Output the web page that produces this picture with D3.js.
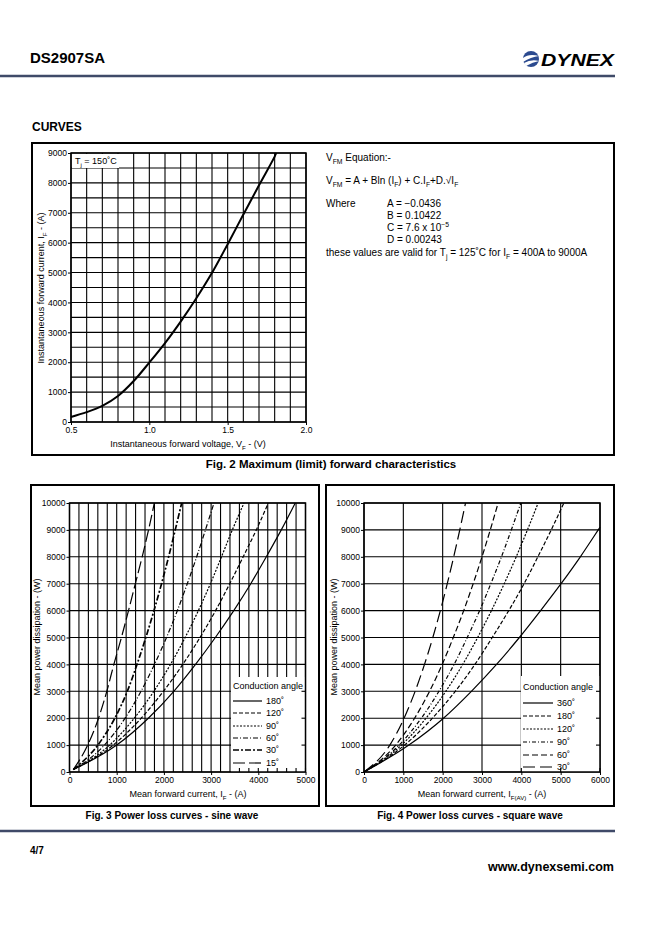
<!DOCTYPE html>
<html><head><meta charset="utf-8">
<script src="https://cdn.jsdelivr.net/npm/d3@7"></script>
<style>
body{margin:0;background:#fff}
svg{display:block}
text{font-family:"Liberation Sans",Arial,Helvetica,sans-serif;fill:#000}
</style>
</head><body>
<svg id="c" width="662" height="936"></svg>
<script>
// ---------------- DATA ----------------
// Fig 2: maximum forward characteristic (Tj = 150 C)
const fig2Voltage = [0.5, 0.6, 0.7, 0.8, 0.9, 1.0, 1.1, 1.2, 1.3, 1.4, 1.5, 1.6, 1.7, 1.8, 1.81];
const fig2Current = [170, 330, 540, 870, 1370, 1990, 2640, 3360, 4140, 4990, 5950, 6940, 7920, 8880, 9000];
const fig2XTicks = [0.5, 1.0, 1.5, 2.0];
const fig2YTicks = [0, 1000, 2000, 3000, 4000, 5000, 6000, 7000, 8000, 9000];

// Fig 3: sine wave power loss (current read at each power level)
const sinePower = [90, 1000, 2000, 3000, 4000, 5000, 6000, 7000, 8000, 9000, 10000];
const sine180 = [80, 1000, 1670, 2210, 2670, 3090, 3480, 3840, 4170, 4487, 4784];
const sine120 = [80, 925, 1519, 1990, 2400, 2765, 3095, 3395, 3680, 3958, 4213];
const sine90  = [80, 850, 1373, 1787, 2140, 2450, 2730, 2985, 3220, 3450, 3697];
const sine60  = [80, 740, 1177, 1515, 1800, 2055, 2285, 2495, 2695, 2880, 3061];
const sine30  = [80, 600, 960, 1225, 1430, 1617, 1790, 1950, 2100, 2240, 2377];
const sine15  = [80, 385, 615, 790, 940, 1100, 1250, 1395, 1540, 1675, 1797];
const sineLabels = ["180˚", "120˚", "90˚", "60˚", "30˚", "15˚"];
const fig3XTicks = [0, 1000, 2000, 3000, 4000, 5000];
const fig3YTicks = [0, 1000, 2000, 3000, 4000, 5000, 6000, 7000, 8000, 9000, 10000];

// Fig 4: square wave power loss
const squarePower = [0, 1000, 2000, 3000, 4000, 5000, 6000, 7000, 8000, 9000, 10000];
const squarePower360 = [0, 1000, 2000, 3000, 4000, 5000, 6000, 7000, 8000, 9000, 9100];
const square360 = [0, 1140, 2020, 2730, 3370, 3950, 4490, 5010, 5500, 5955, 6000];
const square180 = [0, 1030, 1740, 2320, 2820, 3260, 3680, 4070, 4420, 4760, 5081];
const square120 = [0, 952, 1577, 2080, 2510, 2890, 3240, 3565, 3870, 4155, 4427];
const square90  = [0, 893, 1457, 1905, 2290, 2625, 2940, 3225, 3495, 3745, 3987];
const square60  = [0, 805, 1286, 1666, 1989, 2270, 2535, 2775, 3000, 3210, 3410];
const square30  = [0, 657, 1018, 1300, 1538, 1750, 1941, 2117, 2281, 2435, 2581];
const squareLabels = ["360˚", "180˚", "120˚", "90˚", "60˚", "30˚"];
const fig4XTicks = [0, 1000, 2000, 3000, 4000, 5000, 6000];
const fig4YTicks = [0, 1000, 2000, 3000, 4000, 5000, 6000, 7000, 8000, 9000, 10000];

// ---------------- HELPERS ----------------
const svg = d3.select('#c');
svg.append('rect').attr('width', 662).attr('height', 936).attr('fill', '#fff');

function rich(sel, x, y, parts, size, opts) {
  opts = opts || {};
  const t = sel.append('text').attr('x', x).attr('y', y).attr('font-size', size)
    .attr('text-anchor', opts.anchor || 'start').attr('fill', '#000');
  if (opts.weight) t.attr('font-weight', opts.weight);
  if (opts.rotate) t.attr('transform', `rotate(${opts.rotate},${x},${y})`);
  let shift = 0;
  parts.forEach(p => {
    const s = Array.isArray(p) ? p[0] : p;
    const k = Array.isArray(p) ? p[1] : null;
    const target = k === 'sub' ? size * 0.3 : (k === 'sup' ? -size * 0.4 : 0);
    const ts = t.append('tspan').text(s).attr('fill', '#000');
    if (target - shift !== 0) ts.attr('dy', target - shift);
    if (k) ts.attr('font-size', size * 0.68);
    shift = target;
  });
  return t;
}

function styleAxis(g, size) {
  g.select('.domain').remove();
  g.selectAll('.tick line').attr('stroke', '#000').attr('stroke-width', 1);
  g.selectAll('.tick text').attr('font-size', size).attr('fill', '#000')
    .attr('font-family', '"Liberation Sans",Arial,Helvetica,sans-serif');
}

// ---------------- HEADER ----------------
svg.append('text').attr('x', 30).attr('y', 63).attr('font-size', 15).attr('font-weight', 'bold').text('DS2907SA');
// logo
const logo = svg.append('g').attr('transform', 'translate(531,59)');
logo.append('circle').attr('r', 8).attr('fill', '#2b4a8f');
logo.append('path').attr('d', 'M-8,-1 Q-2,-6 8,-3 Q0,-2 -8,3 Z').attr('fill', '#fff');
logo.append('path').attr('d', 'M-7,4 Q0,0 8,2 Q2,3 -5,7 Z').attr('fill', '#fff');
svg.append('text').attr('x', 541).attr('y', 66).attr('font-size', 17).attr('font-weight', 900)
  .attr('font-style', 'italic').attr('fill', '#27407f').attr('textLength', 73)
  .attr('lengthAdjust', 'spacingAndGlyphs').text('DYNEX');
svg.append('line').attr('x1', 0).attr('x2', 615).attr('y1', 76).attr('y2', 76)
  .attr('stroke', '#3f4a68').attr('stroke-width', 2.5);

svg.append('text').attr('x', 32).attr('y', 131).attr('font-size', 12).attr('font-weight', 'bold').text('CURVES');

// ---------------- FIG 2 ----------------
svg.append('rect').attr('x', 32).attr('y', 143).attr('width', 582).attr('height', 312)
  .attr('fill', 'none').attr('stroke', '#000').attr('stroke-width', 2);

const x2 = d3.scaleLinear().domain([0.5, 2.0]).range([71, 306]);
const y2 = d3.scaleLinear().domain([0, 9000]).range([422, 153]);
const g2 = svg.append('g');
g2.selectAll('.v').data(d3.range(0, 16).map(i => 0.5 + i * 0.1)).join('line')
  .attr('x1', d => x2(d)).attr('x2', d => x2(d)).attr('y1', y2(0)).attr('y2', y2(9000))
  .attr('stroke', '#000').attr('stroke-width', 1.1);
g2.selectAll('.h').data(d3.range(0, 9001, 500)).join('line')
  .attr('x1', x2(0.5)).attr('x2', x2(2.0)).attr('y1', d => y2(d)).attr('y2', d => y2(d))
  .attr('stroke', '#000').attr('stroke-width', 1.1);
// Tj label
g2.append('rect').attr('x', 72).attr('y', 154).attr('width', 47).attr('height', 14).attr('fill', '#fff');
rich(g2, 75, 164, ['T', ['j', 'sub'], ' = 150˚C'], 9);
// curve
const pts2 = fig2Voltage.map((v, i) => [v, fig2Current[i]]);
g2.append('path').datum(pts2)
  .attr('d', d3.line().x(d => x2(d[0])).y(d => y2(d[1])).curve(d3.curveCatmullRom))
  .attr('fill', 'none').attr('stroke', '#000').attr('stroke-width', 2);
g2.append('rect').attr('x', x2(0.5)).attr('y', y2(9000)).attr('width', x2(2) - x2(0.5))
  .attr('height', y2(0) - y2(9000)).attr('fill', 'none').attr('stroke', '#000').attr('stroke-width', 1.5);
const ax2l = g2.append('g').attr('transform', `translate(${x2(0.5)},0)`)
  .call(d3.axisLeft(y2).tickValues(fig2YTicks).tickSize(3).tickPadding(1).tickFormat(d3.format('d')));
styleAxis(ax2l, 8.5);
const ax2b = g2.append('g').attr('transform', `translate(0,${y2(0)})`)
  .call(d3.axisBottom(x2).tickValues(fig2XTicks).tickSize(3).tickPadding(2).tickFormat(d3.format('.1f')));
styleAxis(ax2b, 8.5);
rich(g2, 188, 447, ['Instantaneous forward voltage, V', ['F', 'sub'], ' - (V)'], 9, { anchor: 'middle' });
rich(g2, 44, 288, ['Instantaneous forward current, I', ['F', 'sub'], ' - (A)'], 9, { anchor: 'middle', rotate: -90 });

// equation block
rich(svg, 326, 161, ['V', ['FM', 'sub'], ' Equation:-'], 10);
rich(svg, 326, 184, ['V', ['FM', 'sub'], ' = A + Bln (I', ['F', 'sub'], ') + C.I', ['F', 'sub'], '+D.√I', ['F', 'sub']], 10);
rich(svg, 326, 207, ['Where'], 10);
rich(svg, 387, 207, ['A = −0.0436'], 10);
rich(svg, 387, 219, ['B = 0.10422'], 10);
rich(svg, 387, 231, ['C = 7.6 x 10', ['−5', 'sup']], 10);
rich(svg, 387, 243, ['D = 0.00243'], 10);
rich(svg, 326, 256, ['these values are valid for T', ['j', 'sub'], ' = 125˚C for I', ['F', 'sub'], ' = 400A to 9000A'], 10);

svg.append('text').attr('x', 331).attr('y', 468).attr('text-anchor', 'middle').attr('font-size', 11.5)
  .attr('font-weight', 'bold').text('Fig. 2 Maximum (limit) forward characteristics');

// ---------------- POWER LOSS PANELS ----------------
function panel(cfg) {
  const g = svg.append('g');
  g.append('rect').attr('x', cfg.box[0]).attr('y', cfg.box[1]).attr('width', cfg.box[2]).attr('height', cfg.box[3])
    .attr('fill', 'none').attr('stroke', '#000').attr('stroke-width', 2);
  const x = d3.scaleLinear().domain([0, cfg.xmax]).range(cfg.xr);
  const y = d3.scaleLinear().domain([0, 10000]).range([772, 503]);
  g.selectAll('.v').data(d3.range(0, cfg.xmax + 1, cfg.xgrid)).join('line')
    .attr('x1', d => x(d)).attr('x2', d => x(d)).attr('y1', y(0)).attr('y2', y(10000))
    .attr('stroke', '#000').attr('stroke-width', 1.1);
  g.selectAll('.h').data(d3.range(0, 10001, 1000)).join('line')
    .attr('x1', x(0)).attr('x2', x(cfg.xmax)).attr('y1', d => y(d)).attr('y2', d => y(d))
    .attr('stroke', '#000').attr('stroke-width', 1.1);
  const line = d3.line().x(d => x(d[0])).y(d => y(d[1])).curve(d3.curveMonotoneX);
  cfg.series.forEach(s => {
    const pts = s.cur.map((c, i) => [c, s.pow[i]]);
    g.append('path').datum(pts).attr('d', line).attr('fill', 'none').attr('stroke', '#000')
      .attr('stroke-width', s.w).attr('stroke-dasharray', s.dash);
  });
  // legend
  const L = cfg.legend;
  g.append('rect').attr('x', L.x0).attr('y', L.y0).attr('width', x(cfg.xmax) - L.x0).attr('height', y(0) - L.y0).attr('fill', '#fff');
  // frame
  g.append('rect').attr('x', x(0)).attr('y', y(10000)).attr('width', x(cfg.xmax) - x(0)).attr('height', y(0) - y(10000))
    .attr('fill', 'none').attr('stroke', '#000').attr('stroke-width', 1.5);
  // inner ticks visible over legend
  g.selectAll('.bt').data(d3.range(0, cfg.xmax + 1, cfg.xgrid).filter(d => x(d) > L.x0)).join('line')
    .attr('x1', d => x(d)).attr('x2', d => x(d)).attr('y1', y(0)).attr('y2', y(0) - 4)
    .attr('stroke', '#000').attr('stroke-width', 1.1);
  g.selectAll('.rt').data(d3.range(1000, 10001, 1000).filter(d => y(d) > L.y0)).join('line')
    .attr('x1', x(cfg.xmax)).attr('x2', x(cfg.xmax) - 4).attr('y1', d => y(d)).attr('y2', d => y(d))
    .attr('stroke', '#000').attr('stroke-width', 1.1);
  g.append('text').attr('x', L.lx).attr('y', L.titleY + 3).attr('font-size', 9).text('Conduction angle');
  cfg.series.forEach((s, i) => {
    const yy = L.rows[i];
    g.append('line').attr('x1', L.lx).attr('x2', L.lx2).attr('y1', yy).attr('y2', yy)
      .attr('stroke', '#000').attr('stroke-width', s.w).attr('stroke-dasharray', s.dash);
    g.append('text').attr('x', L.lx2 + 4).attr('y', yy + 3).attr('font-size', 9).text(s.label);
  });
  // axes
  const al = g.append('g').attr('transform', `translate(${x(0)},0)`)
    .call(d3.axisLeft(y).tickValues(cfg.yTicks).tickSize(3).tickPadding(1).tickFormat(d3.format('d')));
  styleAxis(al, 8.5);
  const ab = g.append('g').attr('transform', `translate(0,${y(0)})`)
    .call(d3.axisBottom(x).tickValues(cfg.xTicks).tickSize(3).tickPadding(2).tickFormat(d3.format('d')));
  styleAxis(ab, 8.5);
  rich(g, cfg.xlabelX, 797, cfg.xlabel, 9, { anchor: 'middle' });
  rich(g, cfg.ylabelX, 637, ['Mean power dissipation - (W)'], 9, { anchor: 'middle', rotate: -90 });
  g.append('text').attr('x', cfg.capX).attr('y', 819).attr('text-anchor', 'middle').attr('font-size', 10)
    .attr('font-weight', 'bold').text(cfg.caption);
}

panel({
  box: [31, 485, 288, 321], xmax: 5000, xr: [69.5, 305.5], xgrid: 200,
  xTicks: fig3XTicks, yTicks: fig3YTicks,
  series: [
    { label: sineLabels[0], cur: sine180, pow: sinePower, dash: null, w: 1.2 },
    { label: sineLabels[1], cur: sine120, pow: sinePower, dash: '4,2', w: 1.2 },
    { label: sineLabels[2], cur: sine90, pow: sinePower, dash: '2,1.5', w: 1.2 },
    { label: sineLabels[3], cur: sine60, pow: sinePower, dash: '5,2,1,2', w: 1.2 },
    { label: sineLabels[4], cur: sine30, pow: sinePower, dash: '6,2,2,2', w: 1.7 },
    { label: sineLabels[5], cur: sine15, pow: sinePower, dash: '12,4', w: 1.2 }
  ],
  legend: { x0: 231, y0: 677, lx: 233, lx2: 262, titleY: 686, rows: [701, 713, 726, 738, 750, 763] },
  xlabel: ['Mean forward current, I', ['F', 'sub'], ' - (A)'], xlabelX: 188, ylabelX: 40,
  caption: 'Fig. 3 Power loss curves - sine wave', capX: 172
});

panel({
  box: [326, 485, 288, 321], xmax: 6000, xr: [364, 600], xgrid: 1000,
  xTicks: fig4XTicks, yTicks: fig4YTicks,
  series: [
    { label: squareLabels[0], cur: square360, pow: squarePower360, dash: null, w: 1.2 },
    { label: squareLabels[1], cur: square180, pow: squarePower, dash: '4,2', w: 1.2 },
    { label: squareLabels[2], cur: square120, pow: squarePower, dash: '2,1.5', w: 1.2 },
    { label: squareLabels[3], cur: square90, pow: squarePower, dash: '4,2,1,2', w: 1.2 },
    { label: squareLabels[4], cur: square60, pow: squarePower, dash: '6,3', w: 1.2 },
    { label: squareLabels[5], cur: square30, pow: squarePower, dash: '12,5', w: 1.2 }
  ],
  legend: { x0: 521, y0: 676, lx: 523, lx2: 553, titleY: 687, rows: [703, 716, 729, 742, 755, 767] },
  xlabel: ['Mean forward current, I', ['F(AV)', 'sub'], ' - (A)'], xlabelX: 482, ylabelX: 337,
  caption: 'Fig. 4 Power loss curves - square wave', capX: 470
});

// ---------------- FOOTER ----------------
svg.append('line').attr('x1', 0).attr('x2', 615).attr('y1', 831).attr('y2', 831)
  .attr('stroke', '#3f4a68').attr('stroke-width', 2.5);
svg.append('text').attr('x', 30).attr('y', 854).attr('font-size', 10).attr('font-weight', 'bold').text('4/7');
svg.append('text').attr('x', 614).attr('y', 871).attr('text-anchor', 'end').attr('font-size', 12.5)
  .attr('font-weight', 'bold').attr('fill', '#2f3a55').text('www.dynexsemi.com');
</script>
</body></html>
